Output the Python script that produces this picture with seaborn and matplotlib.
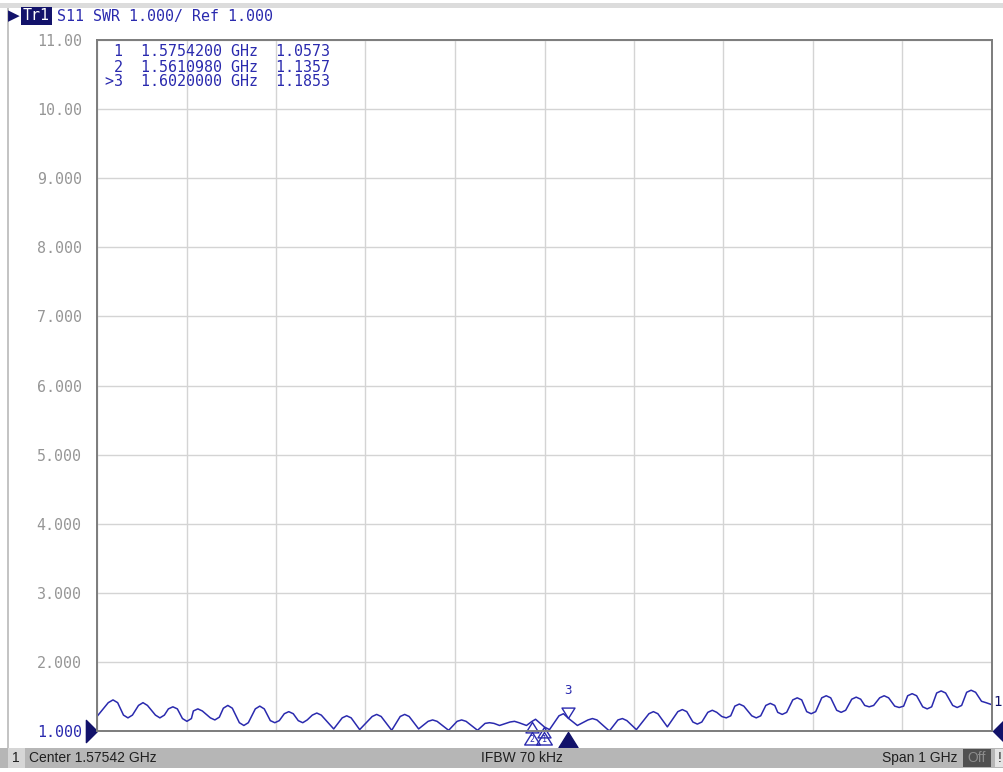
import numpy as np
import pandas as pd
import seaborn as sns
import matplotlib.pyplot as plt
from matplotlib.patches import Rectangle
from matplotlib.path import Path
from matplotlib.transforms import blended_transform_factory

# sweep settings
center_ghz = 1.57542
span_ghz = 1.0
ifbw_khz = 70

# trace S11 SWR
freq_ghz = [1.0754, 1.0880, 1.0933, 1.0985, 1.1050, 1.1100, 1.1150, 1.1218, 1.1268, 1.1318,
            1.1407, 1.1457, 1.1507, 1.1552, 1.1602, 1.1652, 1.1709, 1.1759, 1.1809, 1.1831,
            1.1881, 1.1931, 1.2021, 1.2071, 1.2121, 1.2166, 1.2216, 1.2266, 1.2345, 1.2395,
            1.2445, 1.2523, 1.2573, 1.2623, 1.2691, 1.2741, 1.2791, 1.2847, 1.2897, 1.2947,
            1.3003, 1.3053, 1.3103, 1.3160, 1.3210, 1.3260, 1.3399, 1.3494, 1.3544, 1.3594,
            1.3689, 1.3829, 1.3879, 1.3929, 1.4047, 1.4142, 1.4192, 1.4242, 1.4348, 1.4454,
            1.4504, 1.4554, 1.4683, 1.4778, 1.4828, 1.4878, 1.5006, 1.5090, 1.5140, 1.5190,
            1.5252, 1.5369, 1.5419, 1.5469, 1.5553, 1.5611, 1.5654, 1.5754, 1.5810, 1.5916,
            1.5966, 1.6020, 1.6122, 1.6240, 1.6290, 1.6340, 1.6479, 1.6575, 1.6625, 1.6675,
            1.6781, 1.6921, 1.6971, 1.7021, 1.7127, 1.7244, 1.7294, 1.7344, 1.7412, 1.7462,
            1.7512, 1.7579, 1.7629, 1.7679, 1.7735, 1.7785, 1.7835, 1.7881, 1.7931, 1.7981,
            1.8070, 1.8120, 1.8170, 1.8227, 1.8277, 1.8327, 1.8360, 1.8410, 1.8460, 1.8528,
            1.8578, 1.8628, 1.8684, 1.8734, 1.8784, 1.8852, 1.8902, 1.8952, 1.9019, 1.9069,
            1.9119, 1.9187, 1.9237, 1.9287, 1.9332, 1.9382, 1.9432, 1.9499, 1.9549, 1.9599,
            1.9667, 1.9717, 1.9767, 1.9812, 1.9862, 1.9912, 1.9980, 2.0030, 2.0080, 2.0136,
            2.0186, 2.0236, 2.0315, 2.0365, 2.0415, 2.0471, 2.0521, 2.0571, 2.0637, 2.0687,
            2.0754]
swr = [1.21, 1.41, 1.45, 1.41, 1.23, 1.19, 1.23, 1.37, 1.41, 1.37,
       1.23, 1.19, 1.23, 1.32, 1.35, 1.32, 1.18, 1.14, 1.18, 1.29,
       1.32, 1.29, 1.19, 1.16, 1.20, 1.33, 1.37, 1.33, 1.12, 1.08,
       1.12, 1.32, 1.36, 1.32, 1.15, 1.12, 1.15, 1.25, 1.28, 1.25,
       1.15, 1.12, 1.16, 1.23, 1.26, 1.23, 1.03, 1.19, 1.22, 1.19,
       1.02, 1.21, 1.24, 1.21, 1.01, 1.21, 1.24, 1.21, 1.03, 1.14,
       1.16, 1.14, 1.01, 1.14, 1.16, 1.14, 1.01, 1.11, 1.12, 1.11,
       1.08, 1.13, 1.14, 1.12, 1.08, 1.136, 1.17, 1.057, 1.02, 1.22,
       1.25, 1.185, 1.08, 1.16, 1.18, 1.16, 1.00, 1.16, 1.18, 1.15,
       1.02, 1.25, 1.28, 1.25, 1.06, 1.28, 1.31, 1.28, 1.13, 1.10,
       1.13, 1.27, 1.30, 1.27, 1.21, 1.19, 1.22, 1.36, 1.39, 1.36,
       1.22, 1.19, 1.22, 1.37, 1.40, 1.37, 1.27, 1.24, 1.27, 1.45,
       1.48, 1.45, 1.28, 1.25, 1.28, 1.48, 1.51, 1.48, 1.30, 1.27,
       1.30, 1.46, 1.49, 1.46, 1.37, 1.35, 1.37, 1.48, 1.51, 1.48,
       1.36, 1.34, 1.36, 1.51, 1.54, 1.51, 1.35, 1.32, 1.35, 1.55,
       1.58, 1.55, 1.37, 1.34, 1.37, 1.56, 1.59, 1.56, 1.43, 1.41,
       1.38]

# markers
marker_names = ["1", "2", "3"]
marker_freq = [1.57542, 1.561098, 1.602]
marker_swr = [1.0573, 1.1357, 1.1853]
active_marker = "3"

# y scale
y_ticks = [11, 10, 9, 8, 7, 6, 5, 4, 3, 2, 1]
y_labels = ["11.00", "10.00", "9.000", "8.000", "7.000", "6.000",
            "5.000", "4.000", "3.000", "2.000", "1.000"]

BLUE = "#2a2aae"
NAVY = "#12126a"
MONO = "DejaVu Sans Mono"
SANS = "Liberation Sans"

sns.set_style("white")
plt.rcParams["font.family"] = ["DejaVu Sans"]

W, H = 1004, 772
fig = plt.figure(figsize=(W / 100, H / 100), dpi=100)


def fx(x):
    return x / W


def fy(y):
    return 1 - y / H


def box(x0, y0, x1, y1, color, **kw):
    fig.patches.append(Rectangle((fx(x0), fy(y1)), fx(x1) - fx(x0), fy(y0) - fy(y1),
                                 transform=fig.transFigure, facecolor=color,
                                 edgecolor="none", **kw))


# window frame
box(0, 3, W, 8, "#dcdcdc")
box(7, 8, 9, 748, "#c4c4c4")

# plot area
ax = fig.add_axes([fx(97), fy(731), fx(992) - fx(97), fy(40) - fy(731)])
lo, hi = center_ghz - span_ghz / 2, center_ghz + span_ghz / 2
df = pd.DataFrame({"f": freq_ghz, "swr": swr})
sns.lineplot(data=df, x="f", y="swr", ax=ax, color=BLUE, lw=1.1)
ax.set_xlim(lo, hi)
ax.set_ylim(1, 11)
ax.set_xticks(np.linspace(lo, hi, 11))
ax.set_xticklabels([])
ax.set_yticks(y_ticks)
ax.set_yticklabels(y_labels, family=MONO, fontsize=10.8)
for t in ax.get_yticklabels():
    t.set_color(BLUE if t.get_text() == y_labels[-1] else "#969696")
ax.tick_params(length=0, pad=11)
ax.set_xlabel("")
ax.set_ylabel("")
ax.grid(True, color="#d4d4d4", lw=1)
for s in ax.spines.values():
    s.set_color("#7c7c7c")
    s.set_linewidth(1.4)

# marker symbols on the trace
up_tip = Path([(0, 0), (-1, -1.6), (1, -1.6), (0, 0)], closed=True)
down_tip = Path([(0, 0), (-1, 1.6), (1, 1.6), (0, 0)], closed=True)
for name, f, v in zip(marker_names, marker_freq, marker_swr):
    if name == active_marker:
        ax.plot(f, v, marker=down_tip, ms=15, mfc="none", mec=BLUE, mew=1.0, clip_on=False)
        ax.annotate(name, (f, v), xytext=(0, 20), textcoords="offset points",
                    ha="center", va="center", color=BLUE, fontsize=9, family=MONO)
    else:
        ax.plot(f, v, marker=up_tip, ms=15, mfc="none", mec=BLUE, mew=1.0, clip_on=False)

# stimulus markers below the axis
bt = blended_transform_factory(ax.transData, ax.transAxes)
for name, f in zip(marker_names, marker_freq):
    if name == active_marker:
        ax.plot(f, -0.002, marker=up_tip, ms=22, mfc=NAVY, mec=NAVY, transform=bt, clip_on=False)
    else:
        ax.plot(f, -0.002, marker=up_tip, ms=18, mfc="none", mec=BLUE, mew=1.0,
                transform=bt, clip_on=False)
        ax.text(f, -0.012, name, transform=bt, ha="center", va="center",
                fontsize=6, color=BLUE, family=MONO)

# reference level arrows
ref_right = Path([(0, 0), (-1, -1), (-1, 1), (0, 0)], closed=True)
ref_left = Path([(0, 0), (1, -1), (1, 1), (0, 0)], closed=True)
ref_t = blended_transform_factory(ax.transAxes, ax.transData)
ax.plot(0, 1, marker=ref_right, ms=16, color=NAVY, transform=ref_t, clip_on=False)
ax.plot(1.001, 1, marker=ref_left, ms=16, color=NAVY, transform=ref_t, clip_on=False)
ax.annotate("1", (freq_ghz[-1], swr[-1]), xytext=(4, 2), textcoords="offset points",
            ha="center", va="center", color=NAVY, fontsize=10, family=MONO,
            annotation_clip=False)

# header line
fig.text(fx(8), fy(16), "▶", fontsize=11, color=NAVY, va="center", ha="left")
fig.text(fx(23), fy(16), "Tr1", fontsize=10.8, family=MONO, color="white", va="center",
         ha="left", bbox=dict(boxstyle="square,pad=0.1", fc=NAVY, ec="none"))
fig.text(fx(57), fy(16), f"S11 SWR 1.000/ Ref {y_ticks[-1]:.3f}", fontsize=10.8,
         family=MONO, color=BLUE, va="center", ha="left")

# marker table
for i, (name, f, v) in enumerate(zip(marker_names, marker_freq, marker_swr)):
    lab = (">" + name) if name == active_marker else name
    fig.text(fx(105), fy(52 + 15 * i), f"{lab:>2}  {f:.7f} GHz  {v:.4f}", fontsize=10.8,
             family=MONO, color=BLUE, va="center", ha="left")

# status bar
box(0, 748, W, 768, "#b6b6b6")
box(8, 748, 25, 768, "#d6d6d6")
box(963, 749, 991, 767, "#505050")
box(995, 749, W, 767, "#e4e4e4")
fig.text(fx(16), fy(758), "1", fontsize=10, family=SANS, color="#202020", va="center", ha="center")
fig.text(fx(29), fy(758), f"Center {center_ghz:.5f} GHz", fontsize=10, family=SANS,
         color="#202020", va="center", ha="left")
fig.text(fx(522), fy(758), f"IFBW {ifbw_khz} kHz", fontsize=10, family=SANS,
         color="#202020", va="center", ha="center")
fig.text(fx(958), fy(758), f"Span {span_ghz:g} GHz", fontsize=10, family=SANS,
         color="#202020", va="center", ha="right")
fig.text(fx(977), fy(758), "Off", fontsize=10, family=SANS, color="#8c8c8c",
         va="center", ha="center")
fig.text(fx(1000), fy(758), "!", fontsize=10, family=SANS, color="#202020",
         va="center", ha="center")

fig.savefig("out.png", dpi=100)
